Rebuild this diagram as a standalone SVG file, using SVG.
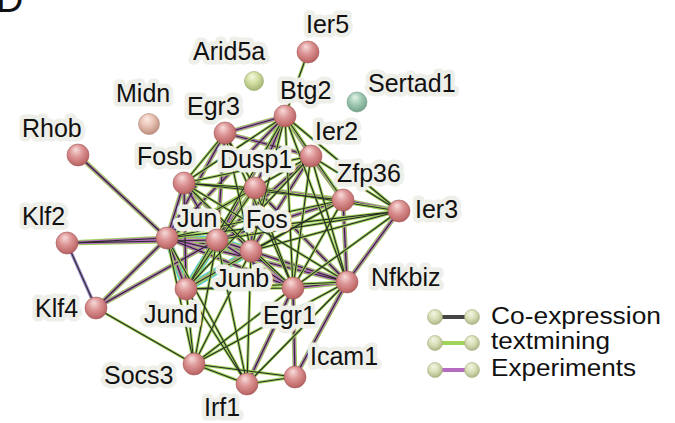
<svg xmlns="http://www.w3.org/2000/svg" width="675" height="423" viewBox="0 0 675 423">
<style>
.lbl{font-family:"Liberation Sans",Arial,sans-serif;font-size:25px;fill:#111;stroke:#efefea;stroke-width:9px;stroke-linejoin:round;paint-order:stroke}
.leg{font-family:"Liberation Sans",Arial,sans-serif;font-size:23px;fill:#111}
.big{font-family:"Liberation Sans",Arial,sans-serif;font-size:38px;fill:#111}
.e path{fill:none}
.ball{stroke:#a45c5c;stroke-width:0.6}
</style>
<defs>
<radialGradient id="gR" cx="0.45" cy="0.4" r="0.65" fx="0.4" fy="0.25">
<stop offset="0" stop-color="#f8dcdc"/><stop offset="0.45" stop-color="#dc9494"/><stop offset="0.85" stop-color="#c06a6a"/><stop offset="1" stop-color="#a45656"/>
</radialGradient>
<radialGradient id="gG" cx="0.45" cy="0.4" r="0.65" fx="0.4" fy="0.25">
<stop offset="0" stop-color="#f4f8e0"/><stop offset="0.45" stop-color="#d4e0a4"/><stop offset="1" stop-color="#9eb070"/>
</radialGradient>
<radialGradient id="gT" cx="0.45" cy="0.4" r="0.65" fx="0.4" fy="0.25">
<stop offset="0" stop-color="#e4f2ea"/><stop offset="0.45" stop-color="#a4ccb6"/><stop offset="1" stop-color="#6e9c84"/>
</radialGradient>
<radialGradient id="gM" cx="0.45" cy="0.4" r="0.65" fx="0.4" fy="0.25">
<stop offset="0" stop-color="#fbece6"/><stop offset="0.45" stop-color="#eac4b6"/><stop offset="1" stop-color="#b88878"/>
</radialGradient>
<radialGradient id="gL" cx="0.45" cy="0.4" r="0.65" fx="0.4" fy="0.25">
<stop offset="0" stop-color="#f4f6e4"/><stop offset="0.5" stop-color="#d8dfb8"/><stop offset="1" stop-color="#a8b080"/>
</radialGradient>
<g id="eC">
<path d="M167 238L217 240M167 238L251 251M167 238L186 289M217 240L251 251M217 240L186 289M251 251L186 289"/>
</g>
<g id="eA">
<path d="M78 155L167 238M67 243L167 238M67 243L217 240M96 308L167 238M96 308L217 240"/>
<path d="M184 183L167 238M184 183L217 240M184 183L251 251M184 183L186 289"/>
<path d="M285 116L167 238M285 116L217 240M285 116L255 188M285 116L311 156M225 133L285 116M225 133L311 156M225 133L217 240M225 133L167 238"/>
<path d="M311 156L217 240M311 156L251 251M311 156L343 200M255 188L217 240M255 188L167 238M255 188L251 251M255 188L343 200M255 188L347 282"/>
<path d="M343 200L399 211M343 200L217 240M343 200L347 282M399 211L347 282"/>
<path d="M217 240L293 288M167 238L293 288M251 251L293 288M217 240L347 282M167 238L347 282M251 251L347 282M293 288L347 282M293 288L295 377M347 282L295 377M293 288L247 384"/>
</g>
<g id="eG">
<path d="M308 52L285 116M96 308L194 364M194 364L247 384M194 364L167 238M194 364L217 240M194 364L251 251M194 364L186 289M194 364L293 288M194 364L347 282M194 364L295 377"/>
<path d="M247 384L167 238M247 384L186 289M247 384L217 240M247 384L251 251M247 384L295 377M247 384L347 282"/>
<path d="M399 211L217 240M399 211L293 288M399 211L251 251M311 156L399 211M399 211L167 238"/>
<path d="M285 116L343 200M285 116L293 288M285 116L251 251M285 116L347 282M285 116L184 183M285 116L186 289M285 116L399 211"/>
<path d="M225 133L255 188M225 133L184 183M225 133L293 288M225 133L251 251"/>
<path d="M311 156L184 183M311 156L255 188M311 156L293 288M311 156L347 282M311 156L167 238M311 156L186 289"/>
<path d="M184 183L255 188M184 183L343 200M184 183L293 288M184 183L347 282"/>
<path d="M343 200L167 238M343 200L251 251M343 200L293 288M343 200L186 289"/>
<path d="M255 188L293 288M255 188L399 211M255 188L186 289M186 289L293 288M186 289L347 282"/>
</g>
<g id="eK"><path d="M67 243L96 308"/></g>
</defs>
<g id="connectors" class="e">
<use href="#eC" stroke="#4fc8dc" stroke-width="7.5"/>
<use href="#eC" stroke="#9fd35a" stroke-width="5"/>
<use href="#eC" stroke="#b56cc0" stroke-width="3.2"/>
<use href="#eC" stroke="#2a2a2a" stroke-width="1.1"/>
<use href="#eA" stroke="#9fd35a" stroke-width="4.8"/>
<use href="#eA" stroke="#b56cc0" stroke-width="3"/>
<use href="#eA" stroke="#2a2a2a" stroke-width="1.1"/>
<use href="#eG" stroke="#9fd35a" stroke-width="3"/>
<use href="#eG" stroke="#2a2a2a" stroke-width="1.1"/>
<use href="#eK" stroke="#9a86c8" stroke-width="3.2"/>
<use href="#eK" stroke="#2a2a2a" stroke-width="1.1"/>
</g>
<text class="big" x="-4" y="12">D</text>
<g id="n-Ier5"><text class="lbl" x="306" y="33">Ier5</text><circle class="ball" cx="308" cy="52" r="11" fill="url(#gR)"/></g>
<g id="n-Arid5a"><text class="lbl" x="193" y="60">Arid5a</text><circle cx="254" cy="81" r="9.5" fill="url(#gG)" stroke="#98a868" stroke-width="0.6"/></g>
<g id="n-Sertad1"><text class="lbl" x="368" y="92">Sertad1</text><circle cx="357" cy="102" r="10" fill="url(#gT)" stroke="#6e9c84" stroke-width="0.6"/></g>
<g id="n-Midn"><text class="lbl" x="116" y="102">Midn</text><circle cx="149" cy="124" r="10.5" fill="url(#gM)" stroke="#b08878" stroke-width="0.6"/></g>
<g id="n-Btg2"><text class="lbl" x="280" y="99">Btg2</text><circle class="ball" cx="285" cy="116" r="11" fill="url(#gR)"/></g>
<g id="n-Egr3"><text class="lbl" x="187" y="115">Egr3</text><circle class="ball" cx="225" cy="133" r="11" fill="url(#gR)"/></g>
<g id="n-Rhob"><text class="lbl" x="22" y="137">Rhob</text><circle class="ball" cx="78" cy="155" r="11" fill="url(#gR)"/></g>
<g id="n-Ier2"><text class="lbl" x="315" y="140">Ier2</text><circle class="ball" cx="311" cy="156" r="11" fill="url(#gR)"/></g>
<g id="n-Fosb"><text class="lbl" x="137" y="165">Fosb</text><circle class="ball" cx="184" cy="183" r="11" fill="url(#gR)"/></g>
<g id="n-Dusp1"><text class="lbl" x="220" y="168">Dusp1</text><circle class="ball" cx="255" cy="188" r="11" fill="url(#gR)"/></g>
<g id="n-Zfp36"><text class="lbl" x="337" y="182">Zfp36</text><circle class="ball" cx="343" cy="200" r="11" fill="url(#gR)"/></g>
<g id="n-Ier3"><text class="lbl" x="415" y="218">Ier3</text><circle class="ball" cx="399" cy="211" r="11" fill="url(#gR)"/></g>
<g id="n-Klf2"><text class="lbl" x="22" y="225">Klf2</text><circle class="ball" cx="67" cy="243" r="11" fill="url(#gR)"/></g>
<g id="n-Jun"><text class="lbl" x="177" y="227">Jun</text><circle class="ball" cx="167" cy="238" r="11" fill="url(#gR)"/></g>
<g id="n-Fos"><text class="lbl" x="246" y="228">Fos</text><circle class="ball" cx="217" cy="240" r="11" fill="url(#gR)"/></g>
<g id="n-Junb"><text class="lbl" x="215" y="287">Junb</text><circle class="ball" cx="251" cy="251" r="11" fill="url(#gR)"/></g>
<g id="n-Nfkbiz"><text class="lbl" x="371" y="286">Nfkbiz</text><circle class="ball" cx="347" cy="282" r="11" fill="url(#gR)"/></g>
<g id="n-Jund"><text class="lbl" x="144" y="323">Jund</text><circle class="ball" cx="186" cy="289" r="11" fill="url(#gR)"/></g>
<g id="n-Egr1"><text class="lbl" x="263" y="324">Egr1</text><circle class="ball" cx="293" cy="288" r="11" fill="url(#gR)"/></g>
<g id="n-Klf4"><text class="lbl" x="35" y="317">Klf4</text><circle class="ball" cx="96" cy="308" r="11" fill="url(#gR)"/></g>
<g id="n-Icam1"><text class="lbl" x="310" y="365">Icam1</text><circle class="ball" cx="295" cy="377" r="11" fill="url(#gR)"/></g>
<g id="n-Socs3"><text class="lbl" x="104" y="384">Socs3</text><circle class="ball" cx="194" cy="364" r="11" fill="url(#gR)"/></g>
<g id="n-Irf1"><text class="lbl" x="204" y="416">Irf1</text><circle class="ball" cx="247" cy="384" r="11" fill="url(#gR)"/></g>
<g id="legend">
<line x1="435" y1="317" x2="472" y2="317" stroke="#444" stroke-width="4"/>
<line x1="435" y1="343" x2="472" y2="343" stroke="#9fd35a" stroke-width="4"/>
<line x1="435" y1="370" x2="472" y2="370" stroke="#b56cc0" stroke-width="4"/>
<g fill="url(#gL)" stroke="#a8b080" stroke-width="0.6">
<circle cx="435" cy="317" r="7.5"/><circle cx="472" cy="317" r="7.5"/>
<circle cx="435" cy="343" r="7.5"/><circle cx="472" cy="343" r="7.5"/>
<circle cx="435" cy="370" r="7.5"/><circle cx="472" cy="370" r="7.5"/>
</g>
<text class="leg" x="491" y="324" textLength="170" lengthAdjust="spacingAndGlyphs">Co-expression</text>
<text class="leg" x="491" y="349" textLength="119" lengthAdjust="spacingAndGlyphs">textmining</text>
<text class="leg" x="491" y="376" textLength="145" lengthAdjust="spacingAndGlyphs">Experiments</text>
</g>
</svg>
